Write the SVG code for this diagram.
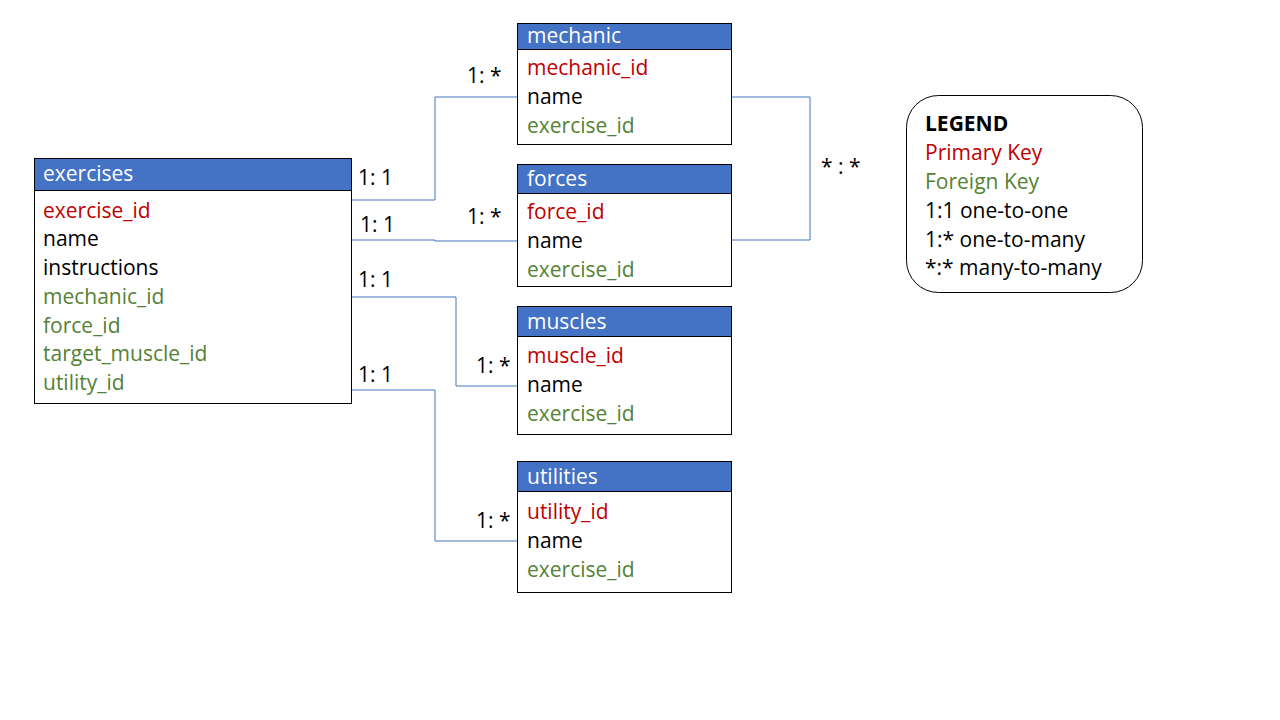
<svg xmlns="http://www.w3.org/2000/svg" width="1280" height="720" viewBox="0 0 1280 720">
<style>
text{font-family:"Open Sans","Noto Sans",sans-serif;font-size:21px;fill:#000}
.hd{fill:#4472C4;stroke:#000;stroke-width:1}
.bd{fill:#fff;stroke:#000;stroke-width:1}
.ht{fill:#fff}
.pk{fill:#C00000}
.fk{fill:#548235}
.cn{fill:none;stroke:#4472C4;stroke-width:1}
</style>
<rect width="1280" height="720" fill="#fff"/>
<g id="connectors">
<polyline class="cn" points="351,200 435,200 435,97 517,97"/>
<polyline class="cn" points="351,240 435,240 435,241 517,241"/>
<polyline class="cn" points="351,297 456,297 456,386 517,386"/>
<polyline class="cn" points="351,390 435,390 435,541 517,541"/>
<polyline class="cn" points="731,97 810,97 810,240 731,240"/>
<text x="467" y="83">1: *</text>
<text x="358" y="185">1: 1</text>
<text x="360" y="232">1: 1</text>
<text x="467" y="224">1: *</text>
<text x="358" y="287">1: 1</text>
<text x="476" y="373">1: *</text>
<text x="358" y="382">1: 1</text>
<text x="476" y="528">1: *</text>
<text x="821" y="174">* : *</text>
</g>
<g id="exercises">
<rect class="bd" x="34.5" y="190.5" width="317" height="213"/>
<rect class="hd" x="34.5" y="158.5" width="317" height="32"/>
<text class="ht" x="43" y="181">exercises</text>
<text class="pk" x="43" y="218">exercise_id</text>
<text x="43" y="246">name</text>
<text x="43" y="275">instructions</text>
<text class="fk" x="43" y="304">mechanic_id</text>
<text class="fk" x="43" y="333">force_id</text>
<text class="fk" x="43" y="361">target_muscle_id</text>
<text class="fk" x="43" y="390">utility_id</text>
</g>
<g id="mechanic">
<rect class="bd" x="517.5" y="49.5" width="214" height="95"/>
<rect class="hd" x="517.5" y="23.5" width="214" height="26"/>
<text class="ht" x="527" y="43">mechanic</text>
<text class="pk" x="527" y="75">mechanic_id</text>
<text x="527" y="104">name</text>
<text class="fk" x="527" y="133">exercise_id</text>
</g>
<g id="forces">
<rect class="bd" x="517.5" y="193.5" width="214" height="93"/>
<rect class="hd" x="517.5" y="164.5" width="214" height="29"/>
<text class="ht" x="527" y="186">forces</text>
<text class="pk" x="527" y="219">force_id</text>
<text x="527" y="248">name</text>
<text class="fk" x="527" y="277">exercise_id</text>
</g>
<g id="muscles">
<rect class="bd" x="517.5" y="336.5" width="214" height="98"/>
<rect class="hd" x="517.5" y="306.5" width="214" height="30"/>
<text class="ht" x="527" y="329">muscles</text>
<text class="pk" x="527" y="363">muscle_id</text>
<text x="527" y="392">name</text>
<text class="fk" x="527" y="421">exercise_id</text>
</g>
<g id="utilities">
<rect class="bd" x="517.5" y="491.5" width="214" height="101"/>
<rect class="hd" x="517.5" y="461.5" width="214" height="30"/>
<text class="ht" x="527" y="484">utilities</text>
<text class="pk" x="527" y="519">utility_id</text>
<text x="527" y="548">name</text>
<text class="fk" x="527" y="577">exercise_id</text>
</g>
<g id="legend">
<rect x="906.5" y="95.5" width="236" height="197" rx="32" fill="#fff" stroke="#000" stroke-width="1"/>
<text x="925" y="131" font-weight="bold">LEGEND</text>
<text class="pk" x="925" y="160">Primary Key</text>
<text class="fk" x="925" y="189">Foreign Key</text>
<text x="925" y="218">1:1 one-to-one</text>
<text x="925" y="247">1:* one-to-many</text>
<text x="925" y="275">*:* many-to-many</text>
</g>
</svg>
